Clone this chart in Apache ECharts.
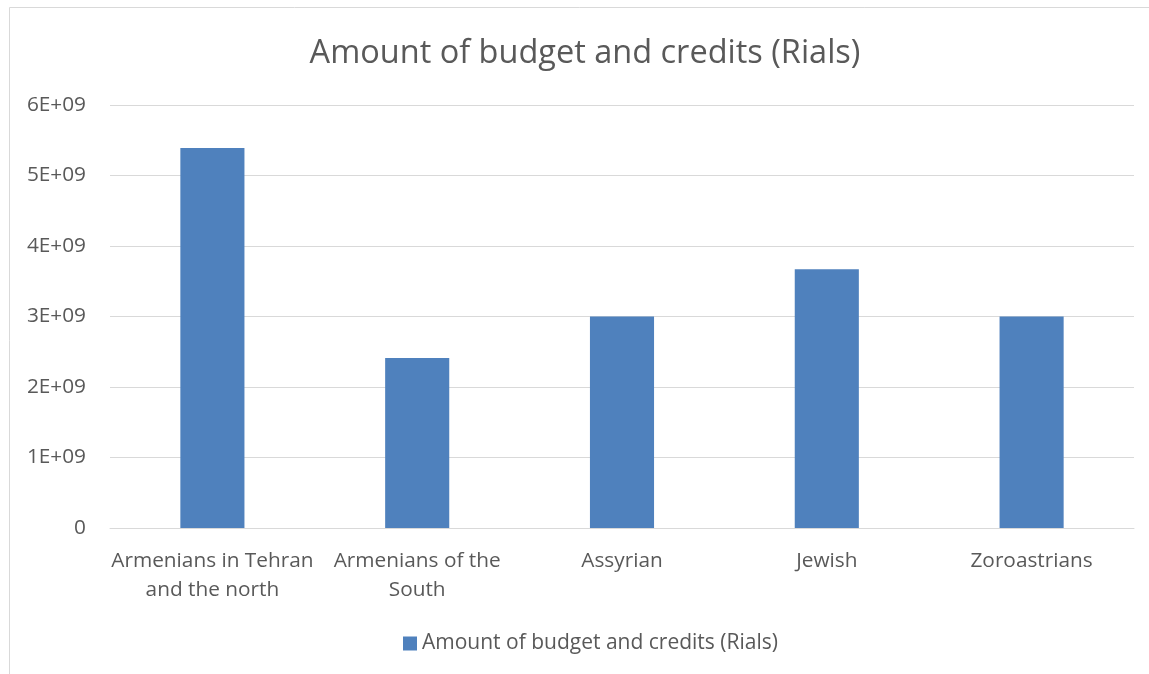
<!DOCTYPE html>
<html>
<head>
<meta charset="utf-8">
<script src="https://cdn.jsdelivr.net/npm/echarts@6/dist/echarts.min.js"></script>
<style>
  html, body { margin: 0; padding: 0; background: #fff; }
  #chart { width: 1149px; height: 674px; }
</style>
</head>
<body>
<div id="chart"></div>
<script>
// Budget allocated to each religious minority community
const categories = ['Armenians in Tehran\nand the north', 'Armenians of the\nSouth', 'Assyrian', 'Jewish', 'Zoroastrians'];
const budgetValues = [5.39e9, 2.41e9, 3.0e9, 3.67e9, 3.0e9];
const seriesName = 'Amount of budget and credits (Rials)';
const titleText = 'Amount of budget and credits (Rials)';

const FONT = '"Open Sans", Lato, sans-serif';
const TEXT = '#595959';

const chart = echarts.init(document.getElementById('chart'), null, { renderer: 'canvas' });

chart.setOption({
  animation: false,
  backgroundColor: '#ffffff',
  textStyle: { fontFamily: FONT },
  title: {
    text: titleText,
    left: 580,
    textAlign: 'center',
    top: 32,
    textStyle: { fontFamily: FONT, fontSize: 32.5, fontWeight: 'normal', color: TEXT }
  },
  legend: {
    data: [seriesName],
    left: 398,
    top: 628,
    itemWidth: 14,
    itemHeight: 14,
    itemGap: 6,
    icon: 'rect',
    textStyle: { fontFamily: FONT, fontSize: 21, color: TEXT },
    selectedMode: false
  },
  grid: { left: 110, right: 15, top: 105, bottom: 146, containLabel: false },
  xAxis: {
    type: 'category',
    data: categories,
    axisLine: { show: true, lineStyle: { color: '#d9d9d9', width: 1 } },
    axisTick: { show: false },
    axisLabel: {
      color: TEXT, fontFamily: FONT, fontSize: 20.8, margin: 19,
      lineHeight: 29, interval: 0
    }
  },
  yAxis: {
    type: 'value',
    min: 0,
    max: 6e9,
    interval: 1e9,
    axisLine: { show: false },
    axisTick: { show: false },
    splitLine: { lineStyle: { color: '#d9d9d9', width: 1 } },
    axisLabel: {
      color: TEXT, fontFamily: FONT, fontSize: 20.8, margin: 24,
      formatter: v => v === 0 ? '0' : (v / 1e9) + 'E+09'
    }
  },
  series: [{
    name: seriesName,
    type: 'bar',
    data: budgetValues,
    barWidth: '31.3%',
    itemStyle: { color: '#4f81bd' }
  }],
  graphic: [
    { type: 'line', shape: { x1: 9.5, y1: 7.5, x2: 1149, y2: 7.5 }, style: { stroke: '#d9d9d9', lineWidth: 1 }, silent: true },
    { type: 'line', shape: { x1: 9.5, y1: 7.5, x2: 9.5, y2: 674 }, style: { stroke: '#d9d9d9', lineWidth: 1 }, silent: true }
  ]
});
</script>
</body>
</html>
